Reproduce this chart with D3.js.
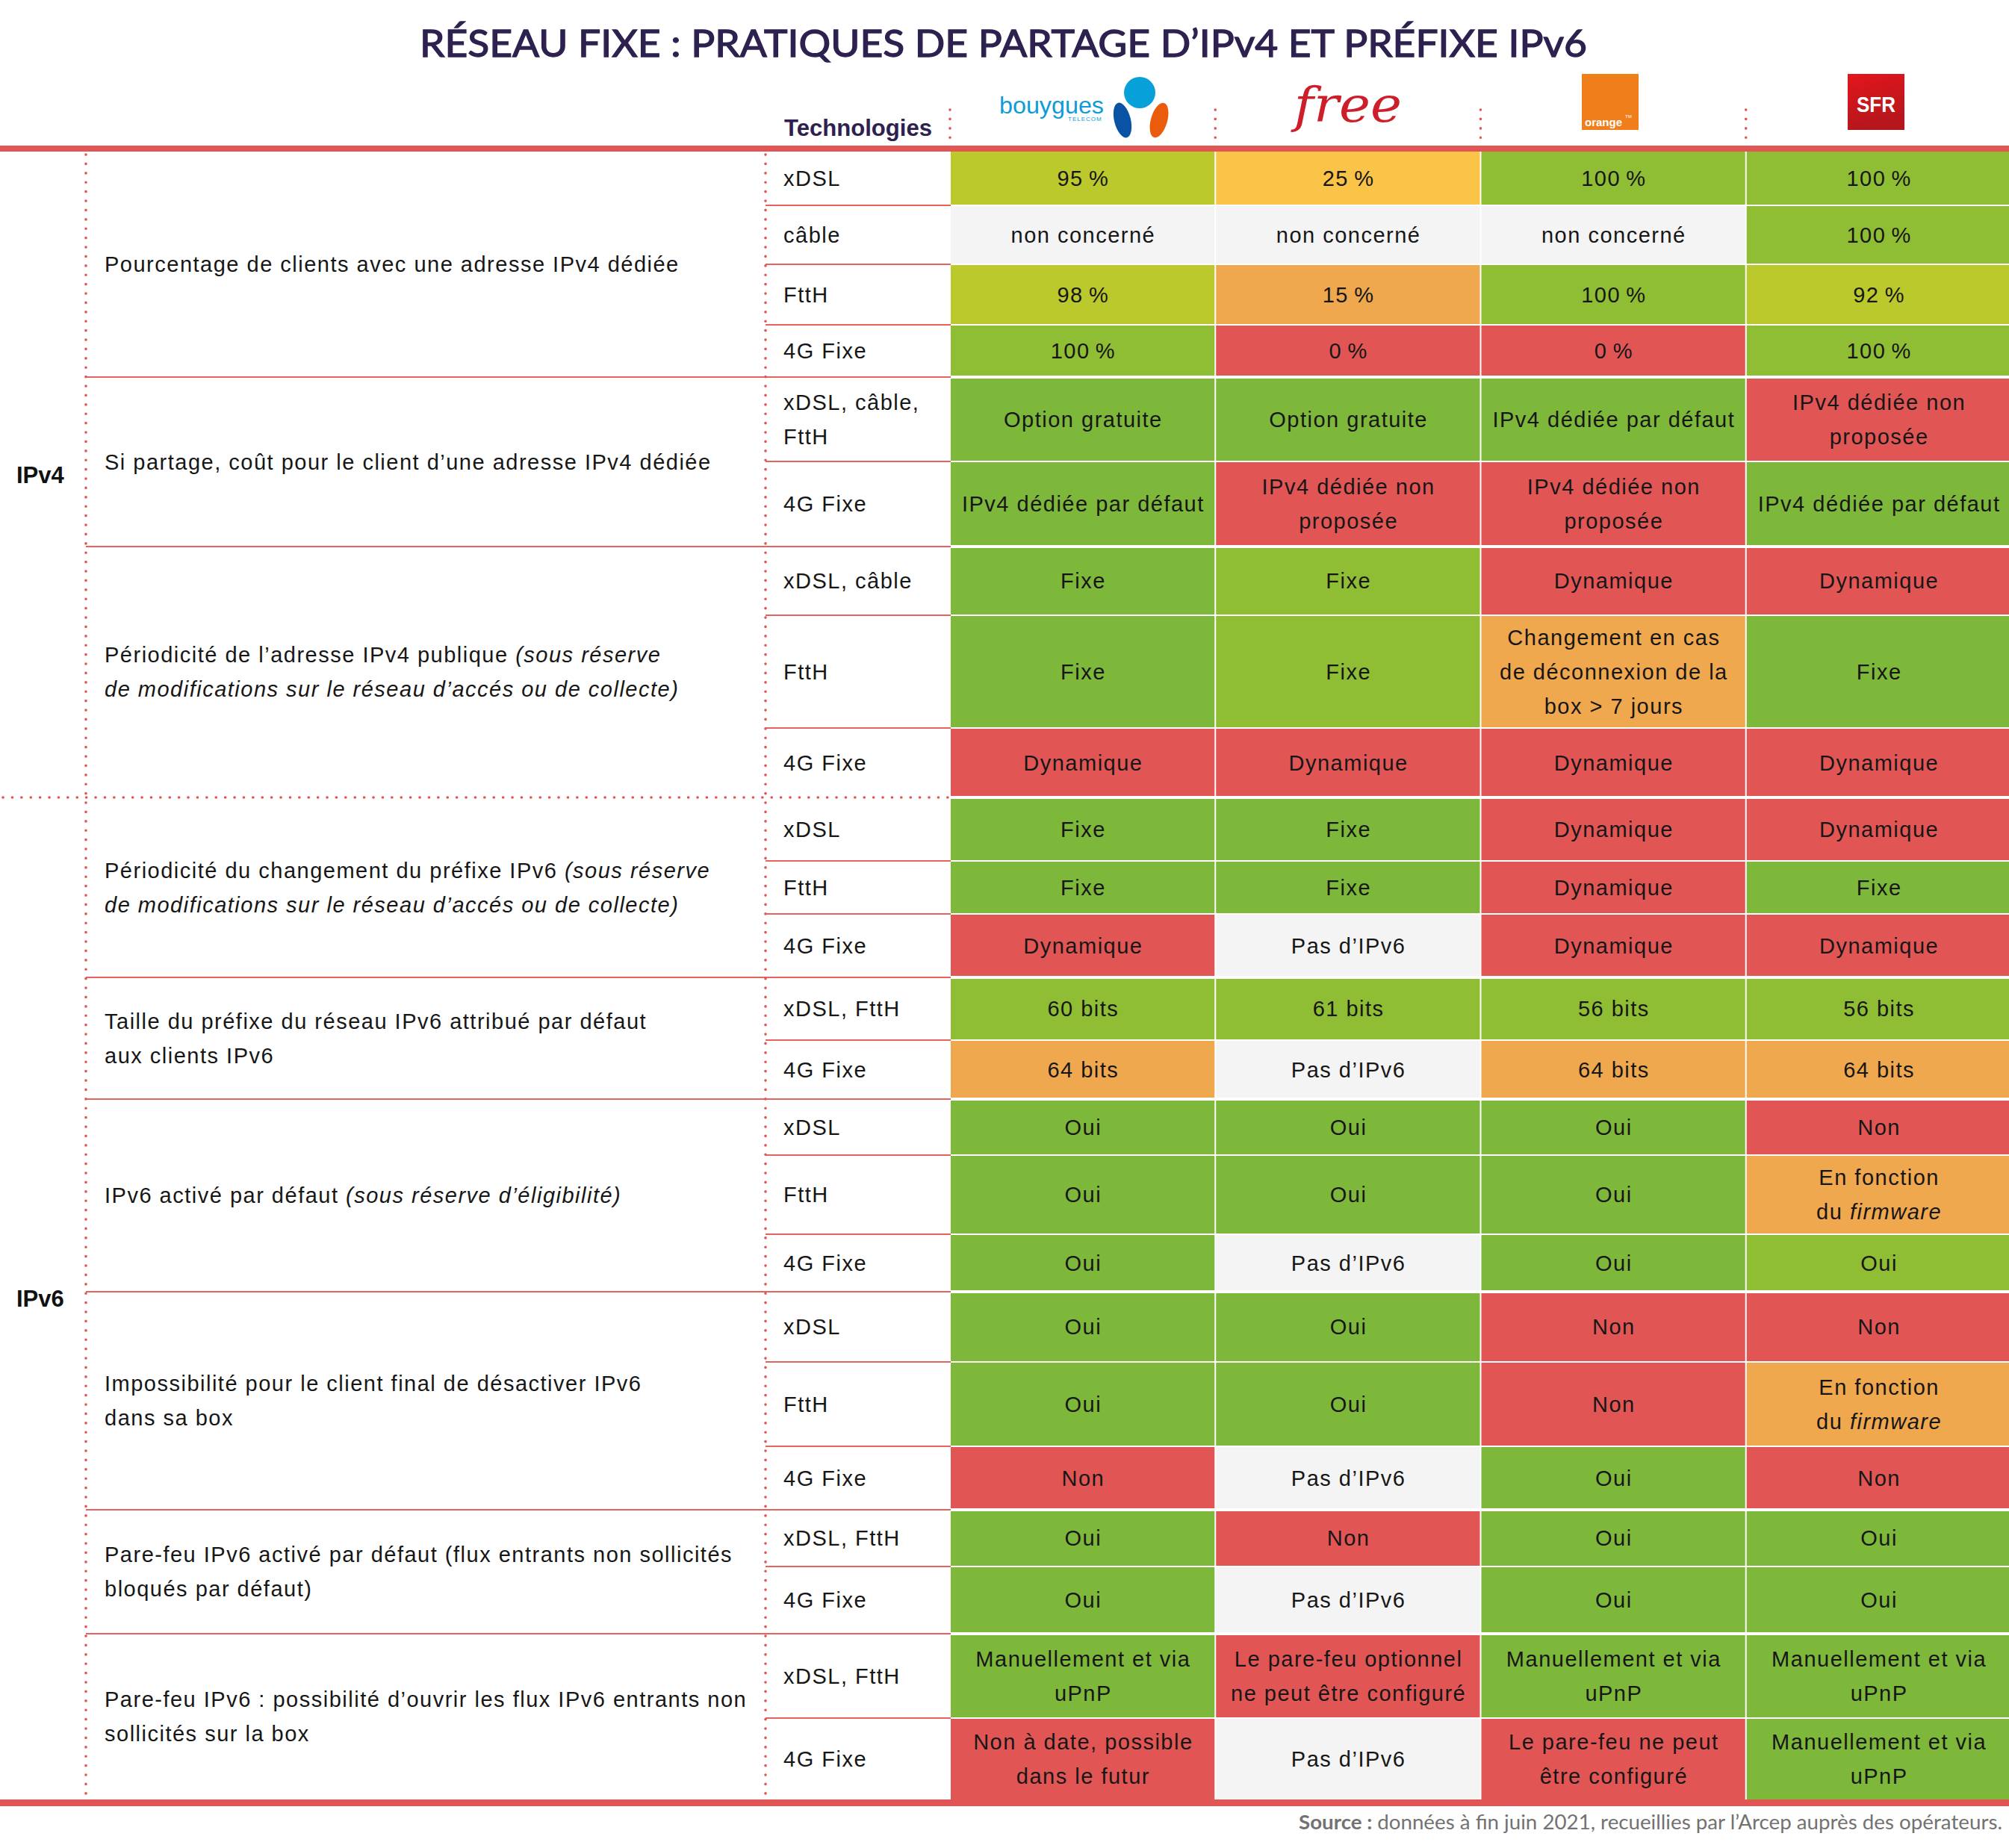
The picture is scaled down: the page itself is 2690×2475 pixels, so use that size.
<!DOCTYPE html>
<html>
<head>
<meta charset="utf-8">
<script src="https://cdn.jsdelivr.net/npm/d3@7"></script>
<style>
    body { margin: 0; background: #fff; }
    svg { display: block; }
</style>
</head>
<body>
<div id="chart"></div>
<script>
// Operators (columns)
const operators = ["Bouygues Telecom", "Free", "Orange", "SFR"];

// Families on the far left
const familyLabels = ["IPv4", "IPv6"];
const groupFamily = [0, 0, 0, 1, 1, 1, 1, 1, 1];

// Question of each group (*...* = italic)
const groupLabels = [
    ["Pourcentage de clients avec une adresse IPv4 dédiée"],
    ["Si partage, coût pour le client d’une adresse IPv4 dédiée"],
    ["Périodicité de l’adresse IPv4 publique *(sous réserve*", "*de modifications sur le réseau d’accés ou de collecte)*"],
    ["Périodicité du changement du préfixe IPv6 *(sous réserve*", "*de modifications sur le réseau d’accés ou de collecte)*"],
    ["Taille du préfixe du réseau IPv6 attribué par défaut", "aux clients IPv6"],
    ["IPv6 activé par défaut *(sous réserve d’éligibilité)*"],
    ["Impossibilité pour le client final de désactiver IPv6", "dans sa box"],
    ["Pare-feu IPv6 activé par défaut (flux entrants non sollicités", "bloqués par défaut)"],
    ["Pare-feu IPv6 : possibilité d’ouvrir les flux IPv6 entrants non", "sollicités sur la box"],
];

// Rows: group index and technology label
const rowGroup = [0, 0, 0, 0, 1, 1, 2, 2, 2, 3, 3, 3, 4, 4, 5, 5, 5, 6, 6, 6, 7, 7, 8, 8];
const technologies = [
    "xDSL", "câble", "FttH", "4G Fixe",
    "xDSL, câble,\nFttH", "4G Fixe",
    "xDSL, câble", "FttH", "4G Fixe",
    "xDSL", "FttH", "4G Fixe",
    "xDSL, FttH", "4G Fixe",
    "xDSL", "FttH", "4G Fixe",
    "xDSL", "FttH", "4G Fixe",
    "xDSL, FttH", "4G Fixe",
    "xDSL, FttH", "4G Fixe",
];

// Cell values per operator
const bouyguesValues = [
    "95 %", "non concerné", "98 %", "100 %",
    "Option gratuite", "IPv4 dédiée par défaut",
    "Fixe", "Fixe", "Dynamique",
    "Fixe", "Fixe", "Dynamique",
    "60 bits", "64 bits",
    "Oui", "Oui", "Oui",
    "Oui", "Oui", "Non",
    "Oui", "Oui",
    "Manuellement et via\nuPnP", "Non à date, possible\ndans le futur",
];
const freeValues = [
    "25 %", "non concerné", "15 %", "0 %",
    "Option gratuite", "IPv4 dédiée non\nproposée",
    "Fixe", "Fixe", "Dynamique",
    "Fixe", "Fixe", "Pas d’IPv6",
    "61 bits", "Pas d’IPv6",
    "Oui", "Oui", "Pas d’IPv6",
    "Oui", "Oui", "Pas d’IPv6",
    "Non", "Pas d’IPv6",
    "Le pare-feu optionnel\nne peut être configuré", "Pas d’IPv6",
];
const orangeValues = [
    "100 %", "non concerné", "100 %", "0 %",
    "IPv4 dédiée par défaut", "IPv4 dédiée non\nproposée",
    "Dynamique", "Changement en cas\nde déconnexion de la\nbox > 7 jours", "Dynamique",
    "Dynamique", "Dynamique", "Dynamique",
    "56 bits", "64 bits",
    "Oui", "Oui", "Oui",
    "Non", "Non", "Oui",
    "Oui", "Oui",
    "Manuellement et via\nuPnP", "Le pare-feu ne peut\nêtre configuré",
];
const sfrValues = [
    "100 %", "100 %", "92 %", "100 %",
    "IPv4 dédiée non\nproposée", "IPv4 dédiée par défaut",
    "Dynamique", "Fixe", "Dynamique",
    "Dynamique", "Fixe", "Dynamique",
    "56 bits", "64 bits",
    "Non", "En fonction\ndu *firmware*", "Oui",
    "Non", "En fonction\ndu *firmware*", "Non",
    "Oui", "Oui",
    "Manuellement et via\nuPnP", "Manuellement et via\nuPnP",
];

// Rating of each cell (A best ... F worst, N = not applicable)
const bouyguesRatings = ["C", "N", "C", "B", "A", "A", "A", "A", "F", "A", "A", "F", "B", "E", "A", "A", "A", "A", "A", "F", "A", "A", "A", "F"];
const freeRatings     = ["D", "N", "E", "F", "A", "F", "B", "B", "F", "A", "A", "N", "B", "N", "A", "A", "N", "A", "A", "N", "F", "N", "F", "N"];
const orangeRatings   = ["B", "N", "B", "F", "A", "F", "F", "E", "F", "F", "F", "F", "B", "E", "A", "A", "A", "F", "F", "A", "A", "A", "A", "F"];
const sfrRatings      = ["B", "B", "C", "B", "F", "A", "F", "A", "F", "F", "A", "F", "B", "E", "F", "E", "B", "F", "E", "F", "A", "A", "A", "A"];

const valuesByOperator = [bouyguesValues, freeValues, orangeValues, sfrValues];
const ratingsByOperator = [bouyguesRatings, freeRatings, orangeRatings, sfrRatings];

// Layout (not data): relative row heights
const rowHeights = [72, 79, 81, 70, 113, 114, 92, 151, 93, 85, 71, 85, 84, 79, 75, 106, 77, 94, 113, 85, 76, 90, 113, 109];

const width = 2690;
const height = 2475;
const FS = 29;       // body font size
const LS = 1.5;      // body letter spacing
const LH = 46;       // line height
const RED = "#e15655";
const LINE = "#e5625f";
const PURPLE = "#2e2150";

const color = d3.scaleOrdinal()
    .domain(["A", "B", "C", "D", "E", "F", "N"])
    .range(["#7eb83a", "#8fbd34", "#bcc92d", "#f9c447", "#f0a84f", "#e15655", "#f4f4f4"]);

const tableTop = 203;
const tableBottom = 2410;
const x = d3.scaleBand().domain(operators).range([1273, width + 2]).paddingInner(0.0056);
const cum = [0, ...d3.cumsum(rowHeights)];
const y = d3.scaleLinear().domain([0, d3.sum(rowHeights)]).range([tableTop, tableBottom]);
const descX = 140;
const techX = 1049;
const techLineX = 1025;
const descLineX = 115;

const svg = d3.select("#chart")
    .append("svg")
    .attr("width", width)
    .attr("height", height)
    .style("font-family", "'Liberation Sans', Arial, sans-serif");

// Write text with *italic* parts
function richText(sel, str) {
    str.split("*").forEach((part, k) => {
        if (part) sel.append("tspan").style("font-style", k % 2 ? "italic" : "normal").text(part);
    });
}

function drawLines(g, lines, px, cy, anchor) {
    const n = lines.length;
    lines.forEach((line, j) => {
        const t = g.append("text")
            .attr("x", anchor === "middle" ? px + LS / 2 : px)
            .attr("y", cy + (j - (n - 1) / 2) * LH + 0.36 * FS)
            .attr("text-anchor", anchor)
            .style("font-size", `${FS}px`)
            .style("letter-spacing", `${LS}px`)
            .attr("fill", "#161616");
        // narrow space before the percent sign
        richText(t, line.replace(" %", "\u2009%"));
    });
}

const isGroupStart = (i) => i === 0 || rowGroup[i] !== rowGroup[i - 1];
const isFamilyStart = (i) => i === 0 || groupFamily[rowGroup[i]] !== groupFamily[rowGroup[i - 1]];

// Title
svg.append("text")
    .attr("x", 562)
    .attr("y", 76)
    .attr("textLength", 1563)
    .attr("lengthAdjust", "spacingAndGlyphs")
    .style("font-family", "Lato, 'Open Sans', sans-serif")
    .style("font-weight", 400)
    .style("font-size", "50px")
    .attr("fill", PURPLE)
    .attr("stroke", PURPLE)
    .attr("stroke-width", 1.3)
    .text("RÉSEAU FIXE : PRATIQUES DE PARTAGE D’IPv4 ET PRÉFIXE IPv6");

// Header "Technologies"
svg.append("text")
    .attr("x", 1050)
    .attr("y", 182)
    .attr("textLength", 198)
    .attr("lengthAdjust", "spacingAndGlyphs")
    .style("font-weight", 700)
    .style("font-size", "31px")
    .attr("fill", PURPLE)
    .text("Technologies");

// Logos
const logos = svg.append("g");
const cx = (op) => x(op) + x.bandwidth() / 2;

// Bouygues Telecom
logos.append("text")
    .attr("x", 1338).attr("y", 152)
    .attr("textLength", 140).attr("lengthAdjust", "spacingAndGlyphs")
    .style("font-size", "32px").attr("fill", "#0e9cd6")
    .text("bouygues");
logos.append("text")
    .attr("x", 1430).attr("y", 162)
    .style("font-size", "8px").style("letter-spacing", "1px").attr("fill", "#0e9cd6")
    .text("TELECOM");
logos.append("circle").attr("cx", 1526).attr("cy", 124).attr("r", 21).attr("fill", "#08a0d8");
logos.append("ellipse").attr("cx", 1503).attr("cy", 161).attr("rx", 11).attr("ry", 24)
    .attr("transform", "rotate(-14 1503 161)").attr("fill", "#0a52a3");
logos.append("ellipse").attr("cx", 1552).attr("cy", 161).attr("rx", 11).attr("ry", 24)
    .attr("transform", "rotate(16 1552 161)").attr("fill", "#ea5b0c");

// Free
logos.append("text")
    .attr("x", cx("Free")).attr("y", 163)
    .attr("text-anchor", "middle")
    .attr("textLength", 144).attr("lengthAdjust", "spacingAndGlyphs")
    .style("font-family", "'DejaVu Serif', 'Liberation Serif', serif")
    .style("font-style", "italic")
    .style("font-size", "66px").attr("fill", "#cd1f2a")
    .text("free");

// Orange
logos.append("rect").attr("x", 2118).attr("y", 99).attr("width", 76).attr("height", 75).attr("fill", "#f07e1b");
logos.append("text").attr("x", 2122).attr("y", 169)
    .style("font-size", "15px").style("font-weight", 700).attr("fill", "#fff").text("orange");
logos.append("text").attr("x", 2176).attr("y", 158)
    .style("font-size", "6px").attr("fill", "#fff").text("TM");

// SFR
const grad = svg.append("defs").append("linearGradient")
    .attr("id", "sfr").attr("x1", 0).attr("y1", 0).attr("x2", 0.3).attr("y2", 1);
grad.append("stop").attr("offset", 0).attr("stop-color", "#e3161c");
grad.append("stop").attr("offset", 1).attr("stop-color", "#b4161c");
logos.append("rect").attr("x", 2474).attr("y", 99).attr("width", 76).attr("height", 75).attr("fill", "url(#sfr)");
logos.append("text").attr("x", 2512).attr("y", 150)
    .attr("text-anchor", "middle")
    .attr("textLength", 52).attr("lengthAdjust", "spacingAndGlyphs")
    .style("font-size", "30px").style("font-weight", 700).attr("fill", "#fff").text("SFR");

// Header dotted separators
const dotted = (sel) => sel
    .attr("stroke", RED)
    .attr("stroke-width", 3.6)
    .attr("stroke-linecap", "round")
    .attr("stroke-dasharray", "0.1 12.3");

svg.selectAll(".hdr-sep")
    .data(operators)
    .enter()
    .append("line")
    .attr("x1", (d) => x(d) - 1)
    .attr("x2", (d) => x(d) - 1)
    .attr("y1", 147)
    .attr("y2", 195)
    .call(dotted);

// Cells
const rows = d3.range(technologies.length);
const cells = svg.append("g");
operators.forEach((op, o) => {
    rows.forEach((i) => {
        const last = i === rows.length - 1;
        const top = y(cum[i]) + (i === 0 ? 0 : isGroupStart(i) ? 2 : 1);
        const bottom = y(cum[i + 1]) - (last ? 0 : isGroupStart(i + 1) ? 2 : 1);
        cells.append("rect")
            .attr("x", x(op))
            .attr("y", top)
            .attr("width", x.bandwidth())
            .attr("height", bottom - top)
            .attr("fill", color(ratingsByOperator[o][i]));
        drawLines(cells, valuesByOperator[o][i].split("\n"), cx(op), (y(cum[i]) + y(cum[i + 1])) / 2, "middle");
    });
});

// Technology labels and row separators
const techG = svg.append("g");
rows.forEach((i) => {
    drawLines(techG, technologies[i].split("\n"), techX, (y(cum[i]) + y(cum[i + 1])) / 2, "start");
    if (i > 0) {
        if (isFamilyStart(i)) {
            techG.append("line")
                .attr("x1", 4).attr("x2", 1273)
                .attr("y1", y(cum[i])).attr("y2", y(cum[i]))
                .call(dotted);
        } else {
            techG.append("line")
                .attr("x1", isGroupStart(i) ? descLineX : techLineX).attr("x2", 1273)
                .attr("y1", y(cum[i])).attr("y2", y(cum[i]))
                .attr("stroke", LINE)
                .attr("stroke-width", 2);
        }
    }
});

// Group questions
const groups = d3.range(groupLabels.length);
groups.forEach((gi) => {
    const idx = rows.filter((i) => rowGroup[i] === gi);
    const cy = (y(cum[idx[0]]) + y(cum[idx[idx.length - 1] + 1])) / 2;
    drawLines(svg, groupLabels[gi], descX, cy, "start");
});

// Family labels
familyLabels.forEach((label, f) => {
    const idx = rows.filter((i) => groupFamily[rowGroup[i]] === f);
    const cy = (y(cum[idx[0]]) + y(cum[idx[idx.length - 1] + 1])) / 2;
    svg.append("text")
        .attr("x", 22)
        .attr("y", cy + 11)
        .style("font-size", "31px")
        .style("font-weight", 700)
        .attr("fill", "#111")
        .text(label);
});

// Vertical dotted lines
[descLineX, techLineX].forEach((lx) => {
    svg.append("line")
        .attr("x1", lx).attr("x2", lx)
        .attr("y1", tableTop + 4).attr("y2", tableBottom)
        .call(dotted);
});

// Thick top and bottom rules
svg.append("rect").attr("x", 0).attr("y", 195).attr("width", width).attr("height", 8).attr("fill", RED);
svg.append("rect").attr("x", 0).attr("y", tableBottom).attr("width", width).attr("height", 9).attr("fill", RED);

// Source
const src = svg.append("text")
    .attr("x", 1739)
    .attr("y", 2450)
    .attr("textLength", 942)
    .attr("lengthAdjust", "spacingAndGlyphs")
    .style("font-family", "Lato, 'Open Sans', sans-serif")
    .style("font-size", "27px")
    .attr("fill", "#727272");
src.append("tspan").style("font-weight", 700).text("Source : ");
src.append("tspan").text("données à fin juin 2021, recueillies par l’Arcep auprès des opérateurs.");
</script>
</body>
</html>
